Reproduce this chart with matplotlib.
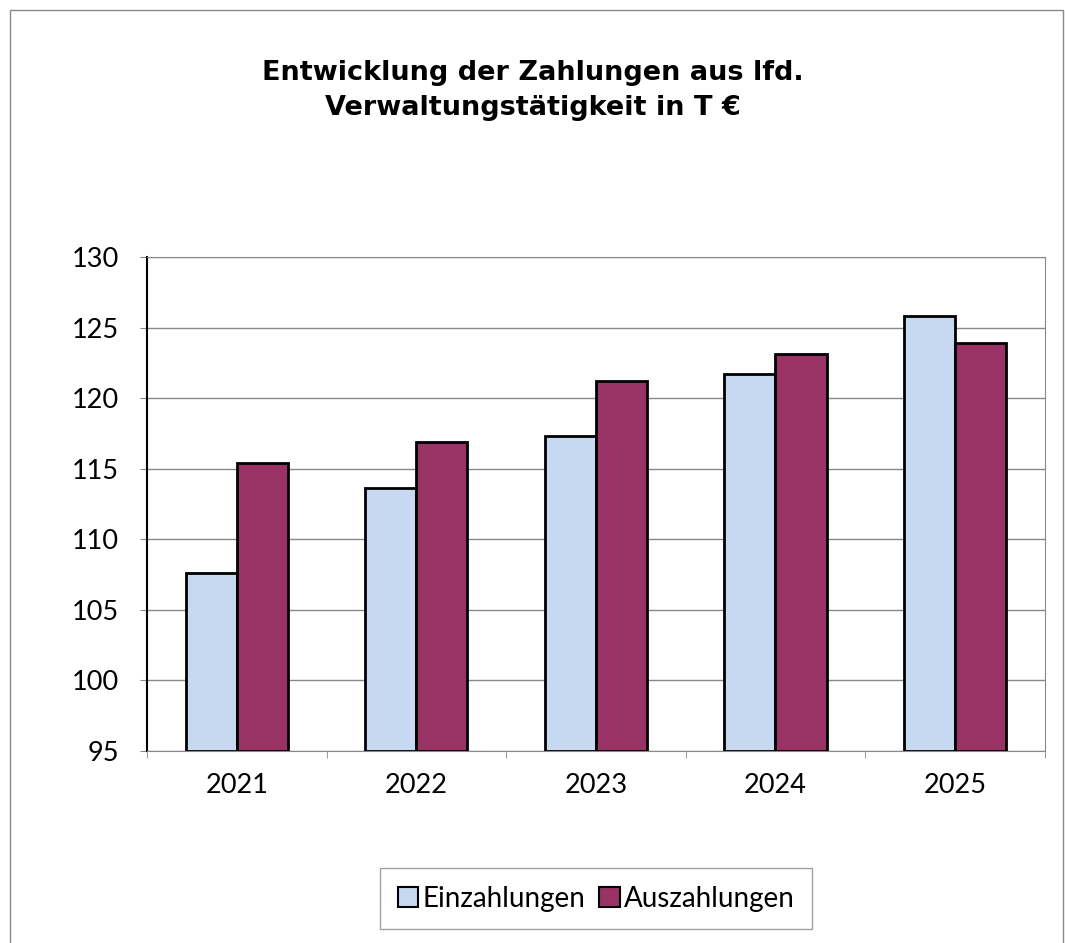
import matplotlib.pyplot as plt
import numpy as np
from matplotlib.patches import Rectangle

# Daten
jahre = ['2021', '2022', '2023', '2024', '2025']
einzahlungen = [107.6, 113.6, 117.3, 121.7, 125.8]
auszahlungen = [115.4, 116.9, 121.2, 123.1, 123.9]

plt.rcParams['font.family'] = ['Lato', 'DejaVu Sans']

fig = plt.figure(figsize=(10.65, 9.43), dpi=100)
ax = fig.add_axes([0.138, 0.2036, 0.843, 0.5239])

# Rahmen um die ganze Grafik
fig.patches.append(Rectangle((10/1065, -0.01), 1053/1065, 1 - 10/943 + 0.01,
                             transform=fig.transFigure, fill=False,
                             edgecolor='#888888', linewidth=1))

x = np.arange(len(jahre))
w = 0.285
ax.bar(x - w/2, np.array(einzahlungen) - 95, w, bottom=95, color='#C6D9F1',
       edgecolor='black', linewidth=2, label='Einzahlungen', zorder=3)
ax.bar(x + w/2, np.array(auszahlungen) - 95, w, bottom=95, color='#993366',
       edgecolor='black', linewidth=2, label='Auszahlungen', zorder=3)

ax.set_ylim(95, 130)
ax.set_yticks(range(95, 131, 5))
ax.set_xlim(-0.5, len(jahre) - 0.5)
ax.set_xticks(x)
ax.set_xticklabels(jahre)
ax.set_xticks(np.arange(-0.5, len(jahre)), minor=True)
ax.tick_params(axis='x', which='major', length=0, pad=16, labelsize=19.5)
ax.tick_params(axis='x', which='minor', length=5, color='#888888', direction='out')
ax.tick_params(axis='y', length=5, labelsize=19.5, direction='out', color='#888888', pad=15)
ax.grid(axis='y', color='#888888', linewidth=1, zorder=0)

for s in ['top', 'right', 'bottom']:
    ax.spines[s].set_color('#888888')
ax.spines['left'].set_color('black')
ax.spines['left'].set_linewidth(1.5)

fig.text(0.5, 0.9035, 'Entwicklung der Zahlungen aus lfd.\nVerwaltungstätigkeit in T €',
         ha='center', va='center', fontsize=19.5, fontweight='bold', linespacing=1.45,
         family='DejaVu Sans')

leg = fig.legend(loc='center', bbox_to_anchor=(0.56, 0.047), ncol=2, fontsize=20,
                 frameon=True, fancybox=False, edgecolor='#888888',
                 handlelength=0.75, handleheight=0.75, handletextpad=0.15,
                 columnspacing=0.5, borderpad=0.62)
leg.get_frame().set_linewidth(1)
for h in leg.legend_handles:
    h.set_linewidth(1.5)

fig.savefig('out.png', dpi=100)
